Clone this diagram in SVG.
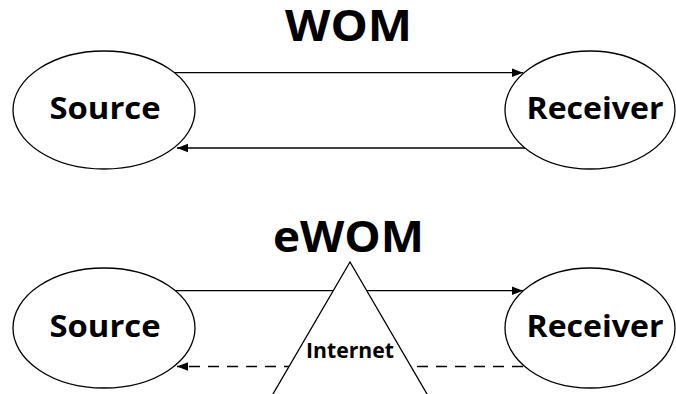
<svg xmlns="http://www.w3.org/2000/svg" width="676" height="394" viewBox="0 0 676 394">
<style>
.node{fill:#fff;stroke:#000;stroke-width:1.3}
.lbl{font-family:"Open Sans","Liberation Sans",sans-serif;font-weight:bold;fill:#000;text-anchor:middle}
.big{font-size:43px}
.mid{font-size:30px}
.sm{font-size:21px}
.c{stroke:#000;stroke-width:1.3;fill:none}
.d{stroke-dasharray:11 8}
</style>
<defs>
<marker id="ah" markerUnits="userSpaceOnUse" markerWidth="12" markerHeight="10" refX="11" refY="5" orient="auto">
<path d="M0,0.8 L11,5 L0,9.2 Z" fill="#000"/>
</marker>
</defs>
<rect width="676" height="394" fill="#fff"/>
<g id="title-wom"><text class="lbl big" x="348.5" y="40.7" textLength="127" lengthAdjust="spacingAndGlyphs">WOM</text></g>
<g id="title-ewom"><text class="lbl big" x="348.5" y="251.7" textLength="151" lengthAdjust="spacingAndGlyphs">eWOM</text></g>
<g id="source1"><ellipse class="node" cx="104" cy="110" rx="91" ry="59"/><text class="lbl mid" x="105" y="119" textLength="111" lengthAdjust="spacingAndGlyphs">Source</text></g>
<g id="receiver1"><ellipse class="node" cx="590" cy="110" rx="85" ry="59"/><text class="lbl mid" x="595" y="119.3" textLength="137" lengthAdjust="spacingAndGlyphs">Receiver</text></g>
<g id="source2"><ellipse class="node" cx="104" cy="328" rx="91" ry="60"/><text class="lbl mid" x="105" y="337" textLength="111" lengthAdjust="spacingAndGlyphs">Source</text></g>
<g id="receiver2"><ellipse class="node" cx="590" cy="328" rx="85" ry="60"/><text class="lbl mid" x="595" y="337.3" textLength="137" lengthAdjust="spacingAndGlyphs">Receiver</text></g>
<g id="connectors">
<line class="c" x1="174.5" y1="72.7" x2="523" y2="72.7" marker-end="url(#ah)"/>
<line class="c" x1="525" y1="148" x2="177" y2="148" marker-end="url(#ah)"/>
<line class="c" x1="175" y1="290.7" x2="523" y2="290.7" marker-end="url(#ah)"/>
<line class="c d" x1="523" y1="366.5" x2="177" y2="366.5" marker-end="url(#ah)"/>
</g>
<g id="internet"><polygon class="node" points="269.5,400 350,262 430.5,400"/><text class="lbl sm" x="350" y="358.3" textLength="88" lengthAdjust="spacingAndGlyphs">Internet</text></g>
</svg>
